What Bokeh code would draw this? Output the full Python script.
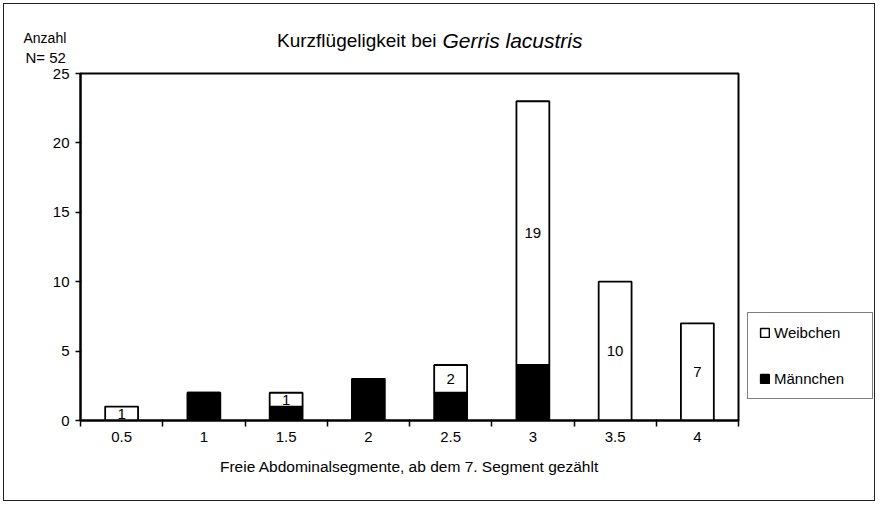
from bokeh.plotting import figure
from bokeh.layouts import column, row
from bokeh.models import (ColumnDataSource, FixedTicker, Label, LabelSet, Legend,
                          LegendItem, Range1d)
from bokeh.core.properties import value
from bokeh.embed import file_html
from bokeh.resources import INLINE

# ---- data ----
segments = [0.5, 1, 1.5, 2, 2.5, 3, 3.5, 4]
tick_labels = ["0.5", "1", "1.5", "2", "2.5", "3", "3.5", "4"]
maennchen = [0, 2, 1, 3, 2, 4, 0, 0]
weibchen = [1, 0, 1, 0, 2, 19, 10, 7]
y_ticks = [0, 5, 10, 15, 20, 25]
series_names = ["Weibchen", "Männchen"]
title_plain = "Kurzflügeligkeit bei"
title_italic = "Gerris lacustris"
y_caption = ["Anzahl", "N= 52"]
x_title = "Freie Abdominalsegmente, ab dem 7. Segment gezählt"

FONT = "Liberation Sans"

src = ColumnDataSource(dict(x=segments, m=maennchen, w=weibchen))
lab_x = [s for s, w in zip(segments, weibchen) if w > 0]
lab_y = [m + w / 2 for m, w in zip(maennchen, weibchen) if w > 0]
lab_t = [str(w) for w in weibchen if w > 0]
lab_src = ColumnDataSource(dict(x=lab_x, y=lab_y, t=lab_t))

def bare(w, h):
    f = figure(width=w, height=h, output_backend="svg", toolbar_location=None,
               x_axis_type=None, y_axis_type=None, min_border=0,
               x_range=Range1d(0.25, 4.25), y_range=Range1d(0, 25))
    f.outline_line_color = None
    f.xgrid.visible = False
    f.ygrid.visible = False
    return f

# ---- header (title + y caption) ----
head = bare(870, 62)
head.add_layout(Label(x=432, y=26, x_units="screen", y_units="screen",
                      text=title_plain, text_align="right", text_baseline="middle",
                      text_font=FONT, text_font_size="19px", text_color="black"))
head.add_layout(Label(x=438, y=26, x_units="screen", y_units="screen",
                      text=title_italic, text_align="left", text_baseline="middle",
                      text_font=FONT, text_font_size="21px", text_font_style="italic",
                      text_color="black"))
head.add_layout(Label(x=19, y=29, x_units="screen", y_units="screen", text=y_caption[0],
                      text_baseline="middle", text_font=FONT, text_font_size="14px",
                      text_color="black"))
head.add_layout(Label(x=21, y=9, x_units="screen", y_units="screen", text=y_caption[1],
                      text_baseline="middle", text_font=FONT, text_font_size="15px",
                      text_color="black"))

# ---- main chart ----
p = figure(width=742, height=434, output_backend="svg", toolbar_location=None,
           x_range=Range1d(0.25, 4.25), y_range=Range1d(0, 25),
           min_border_left=76, min_border_right=8, min_border_top=7, min_border_bottom=80)
p.xgrid.visible = False
p.ygrid.visible = False
p.outline_line_color = "black"
p.outline_line_width = 2

rs = p.vbar_stack(["m", "w"], x="x", width=0.2, source=src,
                  fill_color=["black", "white"], line_color="black", line_width=1.8)

p.add_layout(LabelSet(x="x", y="y", text="t", source=lab_src, text_align="center",
                      text_baseline="middle", text_font=value(FONT),
                      text_font_size=value("15px"), text_color="black"))

xa = p.xaxis[0]
minor = [s - 0.25 for s in segments] + [segments[-1] + 0.25]
xa.ticker = FixedTicker(ticks=segments, minor_ticks=minor)
xa.major_label_overrides = {s: t for s, t in zip(segments, tick_labels)}
xa.major_tick_line_color = None
xa.major_tick_out = 6
xa.major_tick_in = 0
xa.minor_tick_line_color = "black"
xa.minor_tick_line_width = 1.5
xa.minor_tick_out = 6
xa.minor_tick_in = 1
xa.major_label_standoff = 5
xa.axis_line_width = 2
xa.axis_line_color = "black"
xa.major_label_text_font = FONT
xa.major_label_text_font_size = "15px"
xa.major_label_text_color = "black"
xa.axis_label = x_title
xa.axis_label_text_font = FONT
xa.axis_label_text_font_size = "15.5px"
xa.axis_label_text_font_style = "normal"
xa.axis_label_text_color = "black"
xa.axis_label_standoff = 13

ya = p.yaxis[0]
ya.ticker = FixedTicker(ticks=y_ticks, minor_ticks=[])
ya.major_tick_out = 5
ya.major_tick_in = 1
ya.major_tick_line_width = 1.5
ya.minor_tick_line_color = None
ya.axis_line_width = 2
ya.axis_line_color = "black"
ya.major_label_standoff = 6
ya.major_label_text_font = FONT
ya.major_label_text_font_size = "15px"
ya.major_label_text_color = "black"

# ---- legend panel (hidden copies of the series supply the legend glyphs) ----
lg = bare(128, 434)
lrs = lg.vbar_stack(["m", "w"], x="x", width=0.2, source=src,
                    fill_color=["black", "white"], line_color="black", line_width=1.5)
for r in lrs:
    r.visible = False
legend = Legend(items=[LegendItem(label=series_names[0], renderers=[lrs[1]]),
                       LegendItem(label=series_names[1], renderers=[lrs[0]])],
                location=(1, 21), orientation="vertical",
                glyph_width=11, glyph_height=11, label_standoff=4,
                label_height=16, label_width=87,
                spacing=29, padding=11, margin=0,
                label_text_font=FONT, label_text_font_size="15px",
                label_text_color="black",
                inactive_fill_alpha=0.0,
                border_line_color="black", border_line_width=1.5,
                background_fill_color="white", background_fill_alpha=1.0)
lg.add_layout(legend, "center")

layout = column(head, row(p, lg, spacing=0), spacing=0,
                styles={"border": "1px solid #222", "margin-left": "3px",
                        "margin-top": "3px"})

open("out.html", "w").write(file_html(layout, INLINE))
